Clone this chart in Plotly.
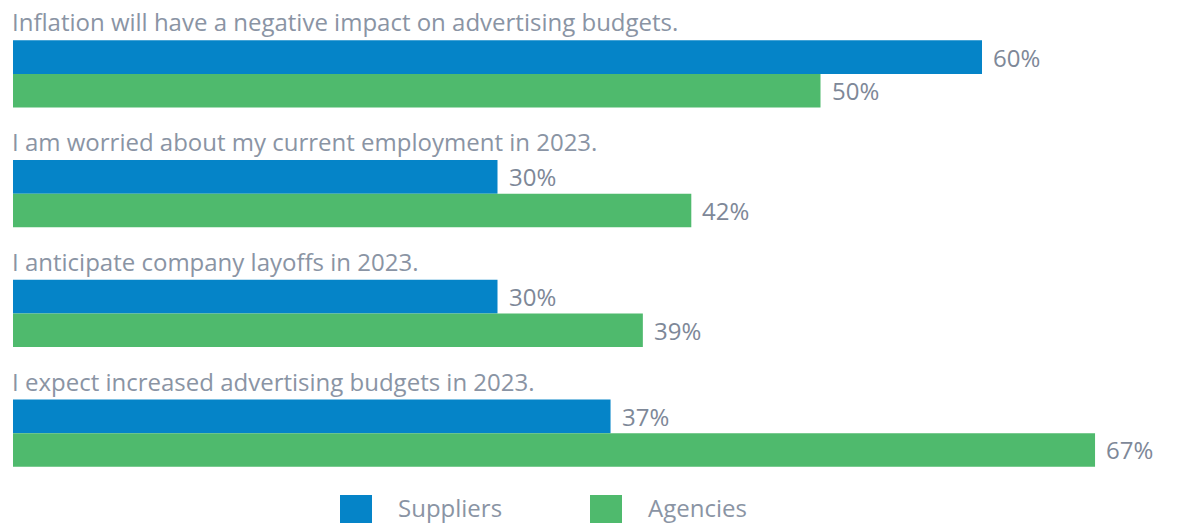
import plotly.graph_objects as go

# Survey statements and response shares (%)
statements = [
    "Inflation will have a negative impact on advertising budgets.",
    "I am worried about my current employment in 2023.",
    "I anticipate company layoffs in 2023.",
    "I expect increased advertising budgets in 2023.",
]
suppliers = [60, 30, 30, 37]
agencies = [50, 42, 39, 67]
series_names = ["Suppliers", "Agencies"]
series_colors = ["#0584c8", "#4fba6d"]

W, H = 1203, 523
ML, MR, MT, MB = 13, 13, 14, 30
plot_w = W - ML - MR
plot_h = H - MT - MB
px_per_pct = 16.15
x_max = plot_w / px_per_pct

text_gray = "#8a94a4"
label_gray = "#7e8898"
font_family = "'Open Sans', Lato, sans-serif"

idx = list(range(len(statements)))

fig = go.Figure()
for name, vals, col in zip(series_names, [suppliers, agencies], series_colors):
    fig.add_trace(go.Bar(
        x=vals, y=idx, orientation="h", name=name,
        marker=dict(color=col, line=dict(width=0)),
        showlegend=False, hoverinfo="x+name",
    ))

slot_px = plot_h / len(statements)
bar_px = slot_px * 0.56 / 2

annotations = []
for i, s in enumerate(statements):
    # statement heading above each pair of bars
    annotations.append(dict(
        x=0, y=i, xref="x", yref="y", text=s, showarrow=False,
        xanchor="left", yanchor="middle", xshift=-3, yshift=52,
        font=dict(family=font_family, size=24, color=text_gray),
    ))
    # value labels at the end of each bar
    for vals, sign in ((suppliers, 1), (agencies, -1)):
        annotations.append(dict(
            x=vals[i], y=i, xref="x", yref="y", text=f"{vals[i]}%",
            showarrow=False, xanchor="left", yanchor="middle",
            xshift=9, yshift=sign * bar_px / 2,
            font=dict(family=font_family, size=24, color=label_gray,
                      weight=500),
        ))

# custom legend below the plot: large square swatches + text
def px_to_paper_x(px):
    return (px - ML) / plot_w

def px_to_paper_y(py):
    return (H - MB - py) / plot_h

shapes = []
legend_items = [(340, 398), (590, 648)]
for (sx, tx), name, col in zip(legend_items, series_names, series_colors):
    shapes.append(dict(
        type="rect", xref="paper", yref="paper",
        x0=px_to_paper_x(sx), x1=px_to_paper_x(sx + 32),
        y0=px_to_paper_y(495), y1=px_to_paper_y(530),
        fillcolor=col, line=dict(width=0), layer="above",
    ))
    annotations.append(dict(
        x=px_to_paper_x(tx), y=px_to_paper_y(507), xref="paper", yref="paper",
        text=name, showarrow=False, xanchor="left", yanchor="middle",
        xshift=-2,
        font=dict(family=font_family, size=24, color=text_gray),
    ))

fig.update_layout(
    width=W, height=H,
    margin=dict(l=ML, r=MR, t=MT, b=MB, pad=0),
    paper_bgcolor="white", plot_bgcolor="white",
    barmode="group", bargap=0.44, bargroupgap=0,
    xaxis=dict(range=[0, x_max], visible=False, fixedrange=True),
    yaxis=dict(range=[len(statements) - 0.5, -0.5], visible=False, fixedrange=True),
    annotations=annotations, shapes=shapes,
    font=dict(family=font_family),
)

fig.write_html("out.html")
